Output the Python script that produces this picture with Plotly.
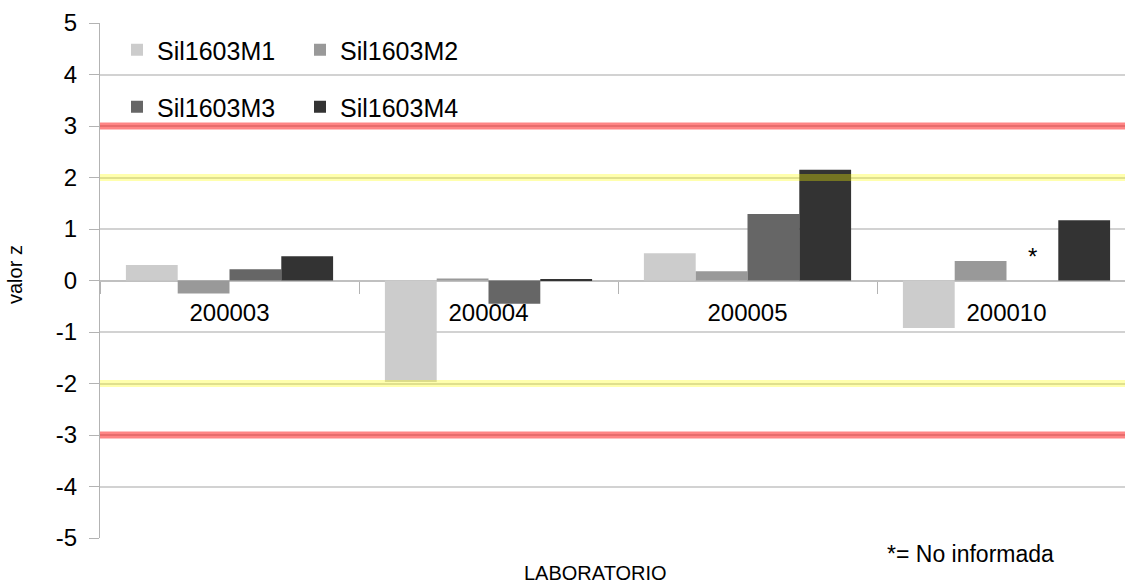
import plotly.graph_objects as go

labs = ["200003", "200004", "200005", "200010"]
series_names = ["Sil1603M1", "Sil1603M2", "Sil1603M3", "Sil1603M4"]
m1 = [0.30, -1.97, 0.53, -0.92]
m2 = [-0.25, 0.04, 0.18, 0.38]
m3 = [0.22, -0.45, 1.29, None]
m4 = [0.47, 0.02, 2.15, 1.17]
colors = ["#cccccc", "#999999", "#666666", "#333333"]
warn_limits = [2, -2]
action_limits = [3, -3]
y_ticks = [-5, -4, -3, -2, -1, 0, 1, 2, 3, 4, 5]

FONT = "Liberation Sans"
W, H = 1125, 585
ML, MR, MT, MB = 100, 0, 23, 47

fig = go.Figure()
for i, (name, vals) in enumerate(zip(series_names, [m1, m2, m3, m4])):
    fig.add_trace(go.Bar(
        x=labs, y=vals, name=name, marker=dict(color=colors[i], line=dict(width=0)),
        legend="legend" if i < 2 else "legend2",
    ))

shapes = []
for v in warn_limits:
    shapes.append(dict(type="line", xref="paper", x0=0, x1=1, yref="y", y0=v, y1=v,
                       line=dict(color="rgba(255,255,0,0.32)", width=7), layer="above"))
for v in action_limits:
    shapes.append(dict(type="line", xref="paper", x0=0, x1=1, yref="y", y0=v, y1=v,
                       line=dict(color="rgba(255,0,0,0.48)", width=7), layer="above"))

plot_w = W - ML - MR
cat_w = 259.0
x_max = -0.5 + plot_w / cat_w

def px_to_paper_x(px):
    return (px - ML) / plot_w

def px_to_paper_y(py):
    return 1 - (py - MT) / (H - MT - MB)

annotations = [
    dict(x=3, y=0.46, xref="x", yref="y", text="*", showarrow=False, xshift=26,
         font=dict(family=FONT, size=24, color="#000"), yanchor="middle"),
    dict(x=px_to_paper_x(885), y=px_to_paper_y(554), xref="paper", yref="paper",
         text="*= No informada", showarrow=False, xanchor="left", yanchor="middle",
         font=dict(family=FONT, size=23, color="#000")),
    dict(x=px_to_paper_x(595), y=px_to_paper_y(573), xref="paper", yref="paper",
         text="LABORATORIO", showarrow=False, xanchor="center", yanchor="middle",
         font=dict(family=FONT, size=20, color="#000")),
    dict(x=px_to_paper_x(15), y=px_to_paper_y(275), xref="paper", yref="paper",
         text="valor z", showarrow=False, textangle=-90, xanchor="center", yanchor="middle",
         font=dict(family=FONT, size=20, color="#000")),
]

legend_common = dict(orientation="h", bgcolor="rgba(0,0,0,0)", xanchor="left", yanchor="middle",
                     font=dict(family=FONT, size=25, color="#000"),
                     entrywidth=138, entrywidthmode="pixels", traceorder="normal")

fig.update_layout(
    width=W, height=H,
    margin=dict(l=ML, r=MR, t=MT, b=MB),
    paper_bgcolor="white", plot_bgcolor="white",
    barmode="group", bargap=0.2, bargroupgap=0,
    font=dict(family=FONT, size=24, color="#000"),
    showlegend=True,
    legend=dict(x=px_to_paper_x(117), y=px_to_paper_y(50), **legend_common),
    legend2=dict(x=px_to_paper_x(117), y=px_to_paper_y(107), **legend_common),
    shapes=shapes,
    annotations=annotations,
    xaxis=dict(
        type="category", range=[-0.5, x_max], anchor="free", position=0.5,
        showgrid=False, showline=False, zeroline=False,
        ticks="outside", tickson="boundaries", ticklen=12, tickcolor="#b3b3b3", tickwidth=1,
        ticklabelstandoff=15,
        tickfont=dict(family=FONT, size=24, color="#000"),
    ),
    yaxis=dict(
        range=[-5, 5], tickvals=y_ticks, ticktext=[str(t) for t in y_ticks],
        showgrid=True, gridcolor="#d2d2d2", gridwidth=2,
        zeroline=True, zerolinecolor="#c0c0c0", zerolinewidth=2,
        showline=True, linecolor="#b3b3b3", linewidth=1,
        ticks="outside", ticklen=10, tickcolor="#b3b3b3", tickwidth=1,
        ticklabelstandoff=7,
        tickfont=dict(family=FONT, size=24, color="#000"),
    ),
)

fig.write_html("out.html", config={"displayModeBar": False},
               post_script="document.body.style.margin='0px';document.body.style.overflow='hidden';")
